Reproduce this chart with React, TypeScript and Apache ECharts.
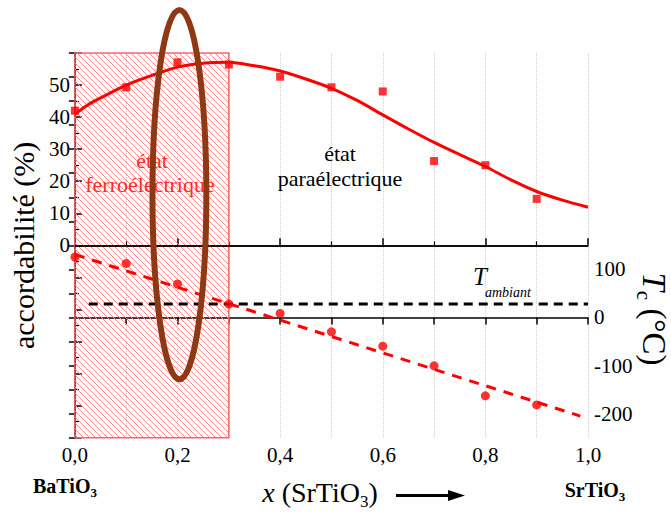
import React, { useEffect, useRef } from 'react';
import * as echarts from 'echarts';

// composition x of SrTiO3
const compositionX = [0, 0.1, 0.2, 0.3, 0.4, 0.5, 0.6, 0.7, 0.8, 0.9];
// tunability (%) measured
const tunability = [42, 49.3, 57.1, 56.4, 52.6, 49.3, 48.0, 26.3, 25.0, 14.5];
// fitted tunability curve
const fitX = [0, 0.025, 0.05, 0.1, 0.15, 0.2, 0.25, 0.3, 0.35, 0.4, 0.45, 0.5, 0.55, 0.6, 0.65, 0.7, 0.75, 0.8, 0.85, 0.9, 0.95, 1.0];
const fitY = [40.9, 43.8, 46, 50, 53, 55.6, 56.8, 57.1, 56, 54.4, 51.9, 49, 45.2, 40.7, 36.3, 32.1, 28.3, 24.6, 20.4, 16.8, 14.1, 11.9];
// Curie temperature (°C)
const curieT = [125.8, 112.5, 69.6, 27.9, 8.3, -29.8, -59.6, -100.6, -163, -181.9];
const curieFitX = [0, 0.985];
const curieFitY = [131, -205];
// ambient temperature line
const ambientX = [0.027, 1.0];
const ambientY = [28, 28];
// ferroelectric region
const ferroRange = [0, 0.3];
// highlight ellipse: center x, center y (left scale), half width (x units), half height (left units)
const ellipseSpec = [0.2037, 15.8, 0.0525, 57.6];

const FONT = '"Liberation Serif", "Times New Roman", serif';

export default function App() {
  const ref = useRef<HTMLDivElement>(null);
  useEffect(() => {
    const chart = echarts.init(ref.current!, null, { renderer: 'svg' });
    const black = '#000';
    const axisLine = { show: true, lineStyle: { color: black, width: 1.5 } };
    const option: any = {
      animation: false,
      backgroundColor: '#fff',
      textStyle: { fontFamily: FONT },
      grid: { left: 71, top: 53, width: 517, height: 384.7, containLabel: false },
      xAxis: [
        {
          type: 'value', min: 0, max: 1, interval: 0.2, position: 'bottom',
          axisLine,
          axisTick: { inside: true, length: 7, lineStyle: { color: black, width: 1.5 } },
          minorTick: { show: true, splitNumber: 2, length: 4, lineStyle: { color: black, width: 1.2 } },
          axisLabel: { formatter: (v: number) => v.toFixed(1).replace('.', ','), fontFamily: FONT, fontSize: 21, color: black, margin: 7 },
          splitLine: { show: true, lineStyle: { type: 'dotted', color: '#cfcfcf', width: 1 } },
          minorSplitLine: { show: true, lineStyle: { type: 'dotted', color: '#cfcfcf', width: 1 } },
        },
        {
          type: 'value', min: 0, max: 1, interval: 0.1, position: 'top',
          axisLine,
          axisTick: { inside: true, length: 7, lineStyle: { color: black, width: 1.5 } },
          axisLabel: { show: false },
          splitLine: { show: false },
        },
      ],
      yAxis: [
        {
          type: 'value', min: -60, max: 60, interval: 10, position: 'left',
          axisLine,
          axisTick: { inside: true, length: 7, lineStyle: { color: black, width: 1.5 } },
          minorTick: { show: true, splitNumber: 2, length: 4, lineStyle: { color: black, width: 1.2 } },
          axisLabel: { formatter: (v: number) => (v >= 0 && v <= 50 ? String(v) : ''), fontFamily: FONT, fontSize: 21, color: black, margin: 5 },
          splitLine: { show: false },
          name: 'accordabilité (%)', nameLocation: 'middle', nameGap: 27, nameRotate: 90,
          nameTextStyle: { fontFamily: FONT, fontSize: 30, color: black },
        },
        {
          type: 'value', min: -250, max: 550, interval: 50, position: 'right',
          axisLine,
          axisTick: { inside: true, length: 6, lineStyle: { color: black, width: 1.5 } },
          axisLabel: { formatter: (v: number) => (v >= -200 && v <= 100 && v % 100 === 0 ? String(v) : ''), fontFamily: FONT, fontSize: 21, color: black, margin: 6 },
          splitLine: { show: false },
        },
      ],
      series: [
        {
          type: 'custom', name: 'ferro', xAxisIndex: 0, yAxisIndex: 0, z: 1, silent: true, clip: false,
          data: [[ferroRange[0], ferroRange[1]]],
          renderItem: (params: any, api: any) => {
            const p0 = api.coord([api.value(0), 60]);
            const p1 = api.coord([api.value(1), -60]);
            const x0 = p0[0], y0 = p0[1], x1 = p1[0], y1 = p1[1];
            const children: any[] = [];
            const step = 6;
            const cStart = Math.ceil((y0 - x1) / step) * step;
            for (let c = cStart; c <= y1 - x0; c += step) {
              const xa = Math.max(x0, y0 - c);
              const xb = Math.min(x1, y1 - c);
              if (xb > xa) {
                children.push({ type: 'line', shape: { x1: xa, y1: xa + c, x2: xb, y2: xb + c }, style: { stroke: '#ff8c8c', lineWidth: 1 } });
              }
            }
            children.push({ type: 'rect', shape: { x: x0, y: y0, width: x1 - x0, height: y1 - y0 }, style: { fill: 'none', stroke: '#ee6b6b', lineWidth: 1.5 } });
            return { type: 'group', children };
          },
        },
        {
          type: 'line', name: 'fit accordabilité', xAxisIndex: 0, yAxisIndex: 0, z: 3,
          data: fitX.map((x, i) => [x, fitY[i]]), smooth: 0.3, showSymbol: false,
          lineStyle: { color: '#ff0000', width: 3 },
          markLine: {
            silent: true, symbol: 'none', label: { show: false },
            lineStyle: { color: black, width: 1.5, type: 'solid' },
            data: [{ yAxis: 0 }],
          },
        },
        {
          type: 'scatter', name: 'accordabilité', xAxisIndex: 0, yAxisIndex: 0, z: 4,
          data: compositionX.map((x, i) => [x, tunability[i]]),
          symbol: 'rect', symbolSize: 8, itemStyle: { color: '#ff0000' },
        },
        {
          type: 'line', name: 'Tamb', xAxisIndex: 0, yAxisIndex: 1, z: 3,
          data: ambientX.map((x, i) => [x, ambientY[i]]), showSymbol: false,
          lineStyle: { color: black, width: 3, type: [9, 6] },
        },
        {
          type: 'line', name: 'fit Tc', xAxisIndex: 0, yAxisIndex: 1, z: 3,
          data: curieFitX.map((x, i) => [x, curieFitY[i]]), showSymbol: false,
          lineStyle: { color: '#ff0000', width: 3, type: [10, 8] },
        },
        {
          type: 'scatter', name: 'Tc', xAxisIndex: 0, yAxisIndex: 1, z: 4,
          data: compositionX.map((x, i) => [x, curieT[i]]),
          symbol: 'circle', symbolSize: 9, itemStyle: { color: '#ff0000' },
        },
        {
          type: 'custom', name: 'ellipse', xAxisIndex: 0, yAxisIndex: 0, z: 10, silent: true, clip: false,
          data: [ellipseSpec],
          renderItem: (params: any, api: any) => {
            const c = api.coord([api.value(0), api.value(1)]);
            const s = api.size([api.value(2), api.value(3)]);
            return {
              type: 'ellipse',
              shape: { cx: c[0], cy: c[1], rx: Math.abs(s[0]), ry: Math.abs(s[1]) },
              style: { fill: 'none', stroke: '#8f3814', lineWidth: 6 },
            };
          },
        },
      ],
      graphic: [
        { type: 'text', x: 152, y: 160, z: 5, style: { text: 'état', fontFamily: FONT, fontSize: 22, fill: '#ff2a2a', align: 'center', verticalAlign: 'middle' } },
        { type: 'text', x: 150, y: 184, z: 5, style: { text: 'ferroélectrique', fontFamily: FONT, fontSize: 22, fill: '#ff2a2a', align: 'center', verticalAlign: 'middle' } },
        { type: 'text', x: 340, y: 153, z: 5, style: { text: 'état', fontFamily: FONT, fontSize: 22, fill: black, align: 'center', verticalAlign: 'middle' } },
        { type: 'text', x: 340, y: 178, z: 5, style: { text: 'paraélectrique', fontFamily: FONT, fontSize: 22, fill: black, align: 'center', verticalAlign: 'middle' } },
        { type: 'text', x: 473, y: 289, z: 5, style: { text: 'T', fontFamily: FONT, fontSize: 25, fontStyle: 'italic', fill: black, align: 'left', verticalAlign: 'bottom' } },
        { type: 'text', x: 485, y: 299, z: 5, style: { text: 'ambiant', fontFamily: FONT, fontSize: 14, fontStyle: 'italic', fill: black, align: 'left', verticalAlign: 'bottom' } },
        {
          type: 'text', x: 320, y: 492, z: 5,
          style: {
            text: '{i|x}{n|\u00A0(SrTiO}{s|3}{n|)}', align: 'center', verticalAlign: 'middle',
            rich: {
              i: { fontFamily: FONT, fontSize: 28, fontStyle: 'italic', fill: black },
              n: { fontFamily: FONT, fontSize: 28, fill: black },
              s: { fontFamily: FONT, fontSize: 17, fill: black, padding: [18, 0, 0, 0] },
            },
          },
        },
        { type: 'line', z: 5, shape: { x1: 396, y1: 495.5, x2: 452, y2: 495.5 }, style: { stroke: black, lineWidth: 3 } },
        { type: 'polygon', z: 5, shape: { points: [[448, 490], [465, 495.5], [448, 501]] }, style: { fill: black } },
        {
          type: 'text', x: 65, y: 486, z: 5,
          style: {
            text: '{b|BaTiO}{s|3}', align: 'center', verticalAlign: 'middle',
            rich: {
              b: { fontFamily: FONT, fontSize: 20, fontWeight: 'bold', fill: black },
              s: { fontFamily: FONT, fontSize: 13, fontWeight: 'bold', fill: black, padding: [12, 0, 0, 0] },
            },
          },
        },
        {
          type: 'text', x: 595, y: 490, z: 5,
          style: {
            text: '{b|SrTiO}{s|3}', align: 'center', verticalAlign: 'middle',
            rich: {
              b: { fontFamily: FONT, fontSize: 20, fontWeight: 'bold', fill: black },
              s: { fontFamily: FONT, fontSize: 13, fontWeight: 'bold', fill: black, padding: [12, 0, 0, 0] },
            },
          },
        },
        {
          type: 'text', x: 654, y: 319, z: 5, rotation: -Math.PI / 2,
          style: {
            text: '{t|T}{c|c}{n|\u00A0(°C)}', align: 'center', verticalAlign: 'middle',
            rich: {
              t: { fontFamily: FONT, fontSize: 33, fontStyle: 'italic', fill: black },
              c: { fontFamily: FONT, fontSize: 21, fill: black, padding: [20, 0, 0, 0] },
              n: { fontFamily: FONT, fontSize: 33, fill: black },
            },
          },
        },
      ],
    };
    chart.setOption(option);
    return () => chart.dispose();
  }, []);
  return <div ref={ref} style={{ position: 'absolute', left: 0, top: 0, width: 671, height: 515 }} />;
}
